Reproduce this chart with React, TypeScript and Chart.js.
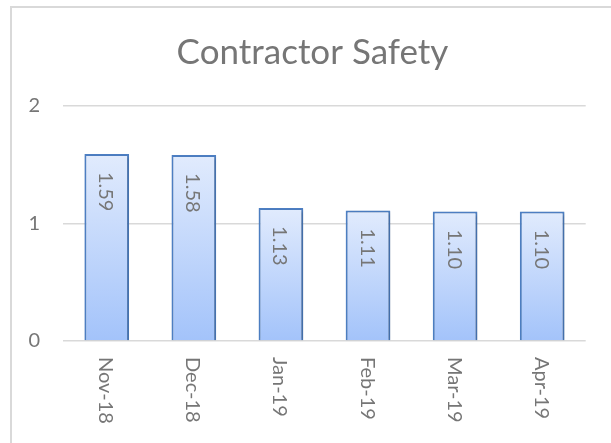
import React, { useEffect, useRef } from "react";
import { Chart, registerables } from "chart.js";

Chart.register(...registerables);

const TITLE = "Contractor Safety";
const categories = ["Nov-18", "Dec-18", "Jan-19", "Feb-19", "Mar-19", "Apr-19"];
const values = [1.59, 1.58, 1.13, 1.11, 1.1, 1.1];
const yTicks = [0, 1, 2];

const FONT = "Lato, 'Noto Sans', sans-serif";
const TEXT_COLOR = "#767676";

export default function App() {
  const ref = useRef<HTMLCanvasElement | null>(null);

  useEffect(() => {
    const canvas = ref.current;
    if (!canvas) return;

    const labelPlugin = {
      id: "customLabels",
      afterDatasetsDraw(chart: any) {
        const ctx = chart.ctx;
        const meta = chart.getDatasetMeta(0);
        ctx.save();
        ctx.fillStyle = "#767676";
        ctx.font = `20px ${FONT}`;
        ctx.textAlign = "left";
        ctx.textBaseline = "middle";
        meta.data.forEach((bar: any, i: number) => {
          ctx.save();
          ctx.translate(bar.x - 1, bar.y + 18);
          ctx.rotate(Math.PI / 2);
          ctx.fillText(values[i].toFixed(2), 0, 0);
          ctx.restore();
        });
        ctx.restore();
      },
      afterDraw(chart: any) {
        const ctx = chart.ctx;
        const xs = chart.scales.x;
        const bottom = chart.chartArea.bottom;
        ctx.save();
        ctx.fillStyle = TEXT_COLOR;
        ctx.font = `20px ${FONT}`;
        ctx.textAlign = "left";
        ctx.textBaseline = "middle";
        categories.forEach((c, i) => {
          const x = xs.getPixelForValue(i);
          ctx.save();
          ctx.translate(x - 1, bottom + 16);
          ctx.rotate(Math.PI / 2);
          ctx.fillText(c, 0, 0);
          ctx.restore();
        });
        // title
        ctx.font = `35px ${FONT}`;
        ctx.textAlign = "center";
        ctx.textBaseline = "alphabetic";
        ctx.fillStyle = TEXT_COLOR;
        ctx.fillText(TITLE, 312.5, 64);
        ctx.restore();
      },
    };

    const shadowPlugin = {
      id: "barShadow",
      beforeDatasetsDraw(chart: any) {
        const ctx = chart.ctx;
        ctx.save();
        ctx.shadowColor = "rgba(0,0,0,0.22)";
        ctx.shadowBlur = 3;
        ctx.shadowOffsetX = 1.5;
        ctx.shadowOffsetY = 1;
      },
      afterDatasetsDraw(chart: any) {
        chart.ctx.restore();
      },
    };

    const chart = new Chart(canvas, {
      type: "bar",
      data: {
        labels: categories,
        datasets: [
          {
            data: values,
            backgroundColor: (context: any) => {
              const c = context.chart;
              const y = c.scales && c.scales.y;
              if (!c.chartArea || !y) return "#bcd3fb";
              const top = y.getPixelForValue(context.raw);
              const base = y.getPixelForValue(0);
              const g = c.ctx.createLinearGradient(0, top, 0, base);
              g.addColorStop(0, "#e1ebfd");
              g.addColorStop(1, "#a3c3fa");
              return g;
            },
            borderColor: "#4d7fc3",
            borderWidth: 2,
            borderSkipped: "start",
            barPercentage: 1,
            categoryPercentage: 0.513,
          },
        ],
      },
      options: {
        responsive: false,
        animation: false,
        devicePixelRatio: 1,
        layout: { padding: { top: 105.7, right: 25.3, bottom: 102, left: 0 } },
        plugins: {
          legend: { display: false },
          title: { display: false },
          tooltip: { enabled: false },
        },
        scales: {
          x: { display: false },
          y: {
            min: 0,
            max: 2,
            afterFit: (scale: any) => {
              scale.width = 63.2;
            },
            afterBuildTicks: (scale: any) => {
              scale.ticks = yTicks.map((v) => ({ value: v }));
            },
            border: { display: false },
            grid: { color: "#d9d9d9", lineWidth: 1.5, drawTicks: false },
            ticks: {
              padding: 23,
              color: TEXT_COLOR,
              font: { family: FONT, size: 20 },
              callback: (v: any) => String(v),
            },
          },
        },
      },
      plugins: [shadowPlugin, labelPlugin],
    });

    return () => chart.destroy();
  }, []);

  return (
    <div
      style={{
        position: "fixed",
        left: 0,
        top: 0,
        width: 611,
        height: 443,
        overflow: "hidden",
        background: "#ffffff",
      }}
    >
      <div
        style={{
          position: "absolute",
          left: 10,
          top: 6,
          width: 700,
          height: 600,
          border: "2px solid #d9d9d9",
        }}
      />
      <canvas
        ref={ref}
        width={611}
        height={443}
        style={{ position: "absolute", left: 0, top: 0, width: 611, height: 443 }}
      />
    </div>
  );
}
